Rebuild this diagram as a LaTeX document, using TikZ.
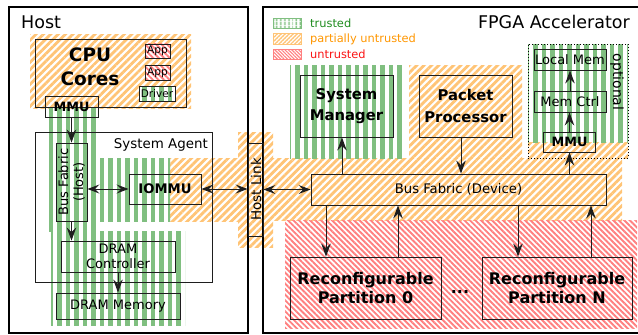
\documentclass[tikz,border=0pt]{standalone}
\usepackage{fontspec}
\setmainfont{DejaVu Sans}
\usetikzlibrary{patterns.meta,arrows.meta,calc}
\definecolor{tgreen}{RGB}{128,191,128}
\definecolor{porange}{RGB}{255,196,118}
\definecolor{ured}{RGB}{255,128,128}
\definecolor{tgreentext}{RGB}{30,140,30}
\definecolor{porangetext}{RGB}{255,150,0}
\definecolor{uredtext}{RGB}{250,20,20}
\definecolor{lineclr}{RGB}{30,30,30}
\tikzset{
  trusted/.style={pattern={Lines[angle=90,distance=8.5pt,line width=4.3pt]},pattern color=tgreen},
  partial/.style={pattern={Lines[angle=45,distance=5.2pt,line width=2.8pt]},pattern color=porange},
  untrusted/.style={pattern={Lines[angle=-45,distance=3.9pt,line width=1.9pt]},pattern color=ured},
  trustedL/.style={pattern={Lines[angle=90,distance=4pt,line width=2pt]},pattern color=tgreen,draw=tgreen},
  partialL/.style={pattern={Lines[angle=45,distance=2.8pt,line width=1.4pt]},pattern color=porange,draw=porange},
  untrustedL/.style={pattern={Lines[angle=-45,distance=2.4pt,line width=1.1pt]},pattern color=ured,draw=ured},
  swatch/.style={minimum width=28pt,minimum height=10.5pt,inner sep=0pt,line width=0.6pt},
  box/.style={draw=lineclr,line width=0.9pt,inner sep=0pt},
  outerbox/.style={draw=black,line width=2pt,inner sep=0pt},
  arr/.style={draw=lineclr,line width=1pt,-{Stealth[length=13pt,width=9.5pt,inset=4.5pt]}},
  darr/.style={draw=lineclr,line width=1pt,{Stealth[length=12pt,width=9pt,inset=4.5pt]}-{Stealth[length=12pt,width=9pt,inset=4.5pt]}},
  fbig/.style={font=\fontsize{17.5}{20}\selectfont},
  fcpu/.style={font=\fontsize{18.5}{24}\selectfont\bfseries},
  fmid/.style={font=\fontsize{13}{15}\selectfont},
  fmidb/.style={font=\fontsize{12.8}{15}\selectfont\bfseries},
  fhead/.style={font=\fontsize{14.8}{21.5}\selectfont\bfseries},
  frp/.style={font=\fontsize{16}{19}\selectfont\bfseries},
  fleg/.style={font=\fontsize{11.4}{13}\selectfont},
  fapp/.style={font=\fontsize{10.5}{12}\selectfont},
}
\begin{document}
\begin{tikzpicture}[x=1pt,y=-1pt]
\useasboundingbox (0,0) rectangle (638,335);

% ---- trust regions
\path[partial] (30,34) rectangle (191,108);
\path[partial] (170,158) rectangle (238,221);
\path[partial] (238,132) rectangle (273,247);
\path[partial] (273,158) rectangle (622,220);
\path[partial] (409,65) rectangle (522,158);
\path[partial] (528,142) rectangle (628,158);
\path[trusted] (45,107) rectangle (97.5,231);
\path[trusted] (97,158) rectangle (170,221);
\path[trusted] (51,231) rectangle (185,325);
\path[trusted] (290,65) rectangle (402,158);
\path[trusted] (528,44) rectangle (628,142);
\path[untrusted] (285,220) rectangle (637,328);

% ---- outer frames
\node[outerbox,minimum width=239pt,minimum height=326pt] (host) at (128.5,170) {};
\node[outerbox,minimum width=377pt,minimum height=326pt] (fpga) at (451.5,170) {};
\node[fbig,anchor=base west,inner sep=0pt] (hostlabel) at (21,28.5) {Host};
\node[fbig,anchor=base east,inner sep=0pt] (fpgalabel) at (630,28.5) {FPGA Accelerator};

% ---- legend
\node[swatch,trustedL] (lg1) at (287,23.5) {};
\node[swatch,partialL] (lg2) at (287,39) {};
\node[swatch,untrustedL] (lg3) at (287,54.5) {};
\node[fleg,anchor=base west,inner sep=0pt,text=tgreentext] (lt1) at (310,27.5) {trusted};
\node[fleg,anchor=base west,inner sep=0pt,text=porangetext] (lt2) at (310,42.5) {partially untrusted};
\node[fleg,anchor=base west,inner sep=0pt,text=uredtext] (lt3) at (310,58) {untrusted};

% ---- host
\node[box,minimum width=151pt,minimum height=68pt] (cpu) at (110.5,73) {};
\node[fcpu,align=center,inner sep=0pt] (cputext) at (90,67) {CPU\\Cores};
\node[box,fapp,preaction={fill=white},untrusted,minimum width=25pt,minimum height=14.5pt] (app1) at (157.5,51.2) {App};
\node[box,fapp,preaction={fill=white},untrusted,minimum width=25pt,minimum height=15pt] (app2) at (157.5,72.5) {App};
\node[box,fapp,preaction={fill=white},trusted,minimum width=36pt,minimum height=15pt] (driver) at (157,93.5) {Driver};
\node[box,fmidb,minimum width=53pt,minimum height=21pt] (mmuh) at (71.5,106.5) {MMU};

\node[box,minimum width=177pt,minimum height=150pt] (sa) at (123.5,207) {};
\node[font=\fontsize{13.4}{15}\selectfont,anchor=base east,inner sep=0pt] (salabel) at (208,148) {System Agent};
\node[box,minimum width=31pt,minimum height=78pt] (bfh) at (71.5,182) {};
\node[fmid,rotate=90,align=center,inner sep=0pt] (bfhtext) at (71.5,182) {Bus Fabric\\(Host)};
\node[box,font=\fontsize{13.2}{15}\selectfont\bfseries,minimum width=72pt,minimum height=30pt] (iommu) at (165,189) {IOMMU};
\node[box,fmid,align=center,minimum width=114pt,minimum height=31pt] (dramc) at (118,256.5) {DRAM\\Controller};
\node[box,fmid,minimum width=124pt,minimum height=26pt] (dramm) at (118,306) {DRAM Memory};

% ---- host link
\node[box,minimum width=15pt,minimum height=93pt] (hl) at (255.5,189.5) {};
\node[font=\fontsize{13.5}{15}\selectfont,rotate=90,inner sep=0pt] (hltext) at (256,189.5) {Host Link};

% ---- device
\node[box,font=\fontsize{13.2}{15}\selectfont,minimum width=295pt,minimum height=31pt] (bfd) at (458.5,189.5) {Bus Fabric (Device)};
\node[box,fhead,align=center,minimum width=93pt,minimum height=62pt] (sm) at (346.5,106) {System\\Manager};
\node[box,fhead,align=center,minimum width=93pt,minimum height=62pt] (pp) at (465.5,106) {Packet\\Processor};
\node[draw=black,dotted,line width=1pt,minimum width=100pt,minimum height=114pt,inner sep=0pt] (opt) at (578,101) {};
\node[font=\fontsize{14}{16}\selectfont,rotate=-90,inner sep=0pt] (opttext) at (617,82) {optional};
\node[box,fmid,minimum width=72pt,minimum height=21pt] (lm) at (570,59.5) {Local Mem};
\node[box,fmid,minimum width=72pt,minimum height=21pt] (mc) at (570,101.5) {Mem Ctrl};
\node[box,fmidb,minimum width=52pt,minimum height=20pt] (mmud) at (569.5,142) {MMU};
\node[box,frp,align=center,minimum width=151pt,minimum height=62pt] (rp0) at (365.5,288) {Reconfigurable\\Partition 0};
\node[box,frp,align=center,minimum width=150pt,minimum height=62pt] (rpn) at (557,288) {Reconfigurable\\Partition N};
\node[frp,inner sep=0pt] (dots) at (460,292) {...};

% ---- connectors
\draw[arr] (mmuh.south) -- (bfh.north);
\draw[arr] (bfh.south) -- (bfh.south |- dramc.north);
\draw[arr] (dramc.south) -- (dramc.south |- dramm.north);
\draw[darr] (bfh.east |- iommu.west) -- (iommu.west);
\draw[darr] (iommu.east) -- (iommu.east -| hl.west);
\draw[darr] (hl.east |- bfd.west) -- (bfd.west);
\coordinate (smx) at (342,0);
\coordinate (ppx) at (461,0);
\draw[arr] (bfd.north -| smx) -- (sm.south -| smx);
\draw[arr] (pp.south -| ppx) -- (bfd.north -| ppx);
\draw[arr] (bfd.north -| mmud.south) -- (mmud.south);
\draw[arr] (mmud.north) -- (mmud.north |- mc.south);
\draw[arr] (mc.north) -- (lm.south);
\coordinate (r0i) at (326,0);
\coordinate (r0o) at (398,0);
\coordinate (rni) at (518,0);
\coordinate (rno) at (591,0);
\draw[arr] (bfd.south -| r0i) -- (rp0.north -| r0i);
\draw[arr] (rp0.north -| r0o) -- (bfd.south -| r0o);
\draw[arr] (bfd.south -| rni) -- (rpn.north -| rni);
\draw[arr] (rpn.north -| rno) -- (bfd.south -| rno);
\end{tikzpicture}
\end{document}
